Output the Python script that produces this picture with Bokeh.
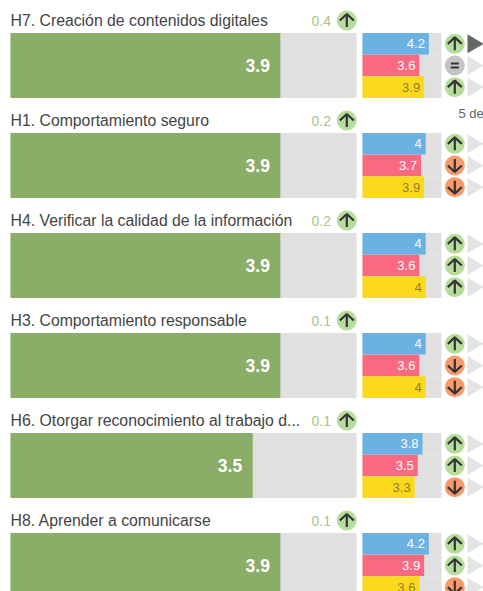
from bokeh.plotting import figure
from bokeh.models import Range1d
from bokeh.embed import file_html
from bokeh.resources import INLINE
from bokeh.core.properties import value

titles = ["H7. Creación de contenidos digitales", "H1. Comportamiento seguro",
          "H4. Verificar la calidad de la información", "H3. Comportamiento responsable",
          "H6. Otorgar reconocimiento al trabajo d...", "H8. Aprender a comunicarse"]
overall = [3.9, 3.9, 3.9, 3.9, 3.5, 3.9]
delta = [0.4, 0.2, 0.2, 0.1, 0.1, 0.1]
blue = [4.2, 4, 4, 4, 3.8, 4.2]
pink = [3.6, 3.7, 3.6, 3.6, 3.5, 3.9]
yellow = [3.9, 3.9, 4, 4, 3.3, 3.6]
blue_dir = ["up", "up", "up", "up", "up", "up"]
pink_dir = ["eq", "down", "up", "down", "up", "up"]
yellow_dir = ["up", "down", "up", "down", "down", "down"]
scale_max = 5

W, H = 483, 591
PITCH = 100.0
TOP = 32.5
ROW_H = 65 / PITCH

GREEN, TRACK = "#8aad68", "#e0e0e0"
BLUE, PINK, YELLOW = "#6ab2e2", "#fb6882", "#fdd91c"
ICON = {"up": "#b6dd9c", "down": "#f99a6e", "eq": "#c4c4c4"}
DARK = "#333333"

p = figure(width=W, height=H, output_backend="svg", toolbar_location=None,
           x_range=Range1d(0, W), y_range=Range1d((H - TOP) / PITCH, -TOP / PITCH),
           min_border=0, outline_line_color=None)
p.axis.visible = False
p.grid.visible = False
p.background_fill_color = None
p.border_fill_color = None

# value scales: main bars 10..356 px on the page, small bars 362..441 px
p.extra_x_ranges = {
    "main": Range1d(-10 * scale_max / 346, (W - 10) * scale_max / 346),
    "sub": Range1d(-362 * scale_max / 79, (W - 362) * scale_max / 79),
}

n = len(titles)
rows = list(range(n))
FONT = value("Liberation Sans")

# main bars
p.hbar(y=[r + ROW_H / 2 for r in rows], left=0, right=[scale_max] * n, height=ROW_H,
       fill_color=TRACK, line_color=None, x_range_name="main")
p.hbar(y=[r + ROW_H / 2 for r in rows], left=0, right=overall, height=ROW_H,
       fill_color=GREEN, line_color=None, x_range_name="main")
p.text(x=overall, y=[r + ROW_H / 2 for r in rows], text=[f"{v:g}" for v in overall],
       x_range_name="main", x_offset=-10.5, text_align="right", text_baseline="middle",
       text_color="white", text_font=FONT, text_font_size="17.5px", text_font_style="bold")

# titles and deltas
TY = -0.125
p.text(x=[10] * n, y=[r + TY for r in rows], text=titles, text_align="left", text_baseline="middle",
       text_color="#444444", text_font=FONT, text_font_size="15.8px")
p.text(x=[330.5] * n, y=[r + TY for r in rows], text=[f"{d:g}" for d in delta],
       text_align="right", text_baseline="middle",
       text_color="#a9c48a", text_font=FONT, text_font_size="14px")


def arrow(cx, cy, kind):
    """Icon strokes, in pixels around a centre given in axis units."""
    if kind == "eq":
        for dy in (-2, 2):
            p.line([cx - 4, cx + 4], [cy + dy / PITCH] * 2, line_color=DARK, line_width=2.2)
        return
    s = -1 if kind == "up" else 1
    p.line([cx, cx], [cy - s * 6.5 / PITCH, cy + s * 6.5 / PITCH], line_color=DARK, line_width=2.2)
    p.line([cx - 7, cx, cx + 7], [cy + s * 0 / PITCH, cy + s * 6.5 / PITCH, cy + s * 0 / PITCH],
           line_color=DARK, line_width=2.2)


# heading icon
hx = [346.3] * n
hy = [r + TY for r in rows]
p.scatter(x=hx, y=hy, marker="circle", size=20, fill_color=ICON["up"], line_color=None)
for r in rows:
    arrow(346.3, r + TY, "up")

# small bars
SUB_H = ROW_H / 3
for i, (vals, col, txt, dirs) in enumerate([(blue, BLUE, "white", blue_dir),
                                            (pink, PINK, "white", pink_dir),
                                            (yellow, YELLOW, "#8f7d2c", yellow_dir)]):
    ys = [r + SUB_H * (i + 0.5) for r in rows]
    p.hbar(y=ys, left=0, right=[scale_max] * n, height=SUB_H, fill_color=TRACK, line_color=None,
           x_range_name="sub")
    p.hbar(y=ys, left=0, right=vals, height=SUB_H, fill_color=col, line_color=None, x_range_name="sub")
    p.text(x=vals, y=ys, text=[f"{v:g}" for v in vals], x_range_name="sub", x_offset=-4,
           text_align="right", text_baseline="middle", text_color=txt, text_font=FONT,
           text_font_size="13px")
    p.scatter(x=[454.3] * n, y=ys, marker="circle", size=20,
              fill_color=[ICON[d] for d in dirs], line_color=None)
    for y, d in zip(ys, dirs):
        arrow(454.3, y, d)
    # pager triangles
    for r, y in zip(rows, ys):
        col_t = "#666666" if (r == 0 and i == 0) else "#e4e4e4"
        p.patch([467, 483, 467], [y - 9.5 / PITCH, y, y + 9.5 / PITCH], fill_color=col_t, line_color=None)

p.text(x=[458], y=[(113 - 32.5) / PITCH], text=["5 de"], text_align="left", text_baseline="middle",
       text_color="#666666", text_font=FONT, text_font_size="13px")

open("out.html", "w").write(file_html(p, INLINE))
